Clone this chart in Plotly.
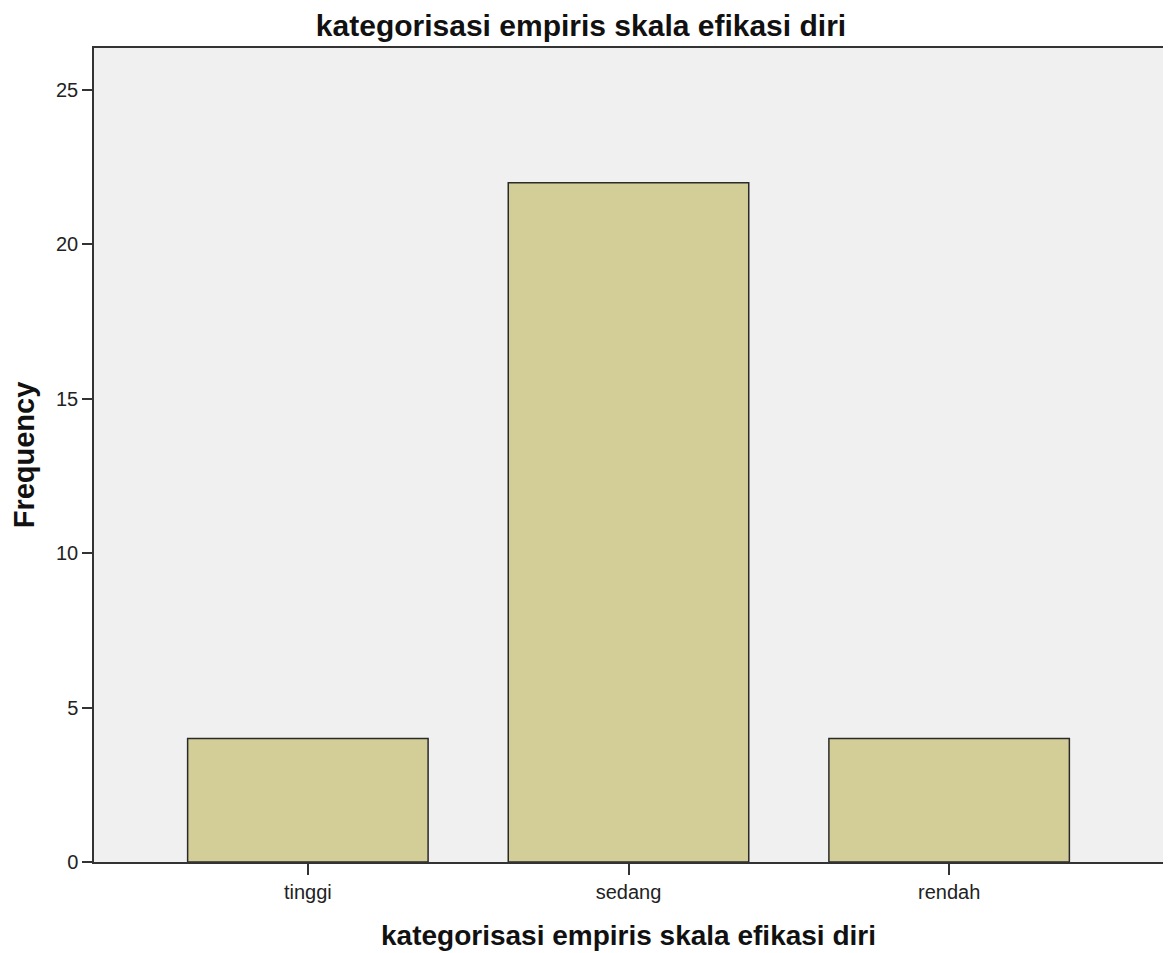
import plotly.graph_objects as go

categories = ["tinggi", "sedang", "rendah"]
frequency = [4, 22, 4]
y_ticks = [0, 5, 10, 15, 20, 25]

fig = go.Figure()
fig.add_trace(go.Bar(
    x=list(range(len(categories))),
    y=frequency,
    width=0.75,
    marker=dict(color="#D3CE97", line=dict(color="#2a2a2a", width=1.5)),
    hoverinfo="skip",
))

fig.update_layout(
    width=1163, height=945,
    margin=dict(l=86, r=6, t=40, b=91),
    paper_bgcolor="white",
    plot_bgcolor="#F0F0F0",
    showlegend=False,
    title=dict(text="<b>kategorisasi empiris skala efikasi diri</b>",
               x=0.4927, xref="container", xanchor="center", y=0.982, yanchor="middle",
               font=dict(family="Liberation Sans, Arial", size=30, color="#111")),
    font=dict(family="Liberation Sans, Arial", size=20, color="#222"),
)
fig.update_xaxes(
    range=[-0.667, 2.667],
    tickmode="array", tickvals=list(range(len(categories))), ticktext=categories,
    ticks="outside", ticklen=11, tickwidth=1.5, tickcolor="#333",
    showline=True, linecolor="#333", linewidth=1.5, mirror=True,
    showgrid=False, zeroline=False,
    tickfont=dict(family="Liberation Sans, Arial", size=20, color="#222"),
    title=dict(text="<b>kategorisasi empiris skala efikasi diri</b>",
               font=dict(family="Liberation Sans, Arial", size=28, color="#111"), standoff=24),
)
fig.update_yaxes(
    range=[0, 26.36],
    tickmode="array", tickvals=y_ticks,
    ticks="outside", ticklen=10, tickwidth=1.5, tickcolor="#333",
    showline=True, linecolor="#333", linewidth=1.5, mirror=True,
    showgrid=False, zeroline=False,
    tickfont=dict(family="Liberation Sans, Arial", size=20, color="#222"),
    title=dict(text="<b>Frequency</b>",
               font=dict(family="Liberation Sans, Arial", size=29, color="#111"), standoff=14),
)

fig.write_html("out.html")
